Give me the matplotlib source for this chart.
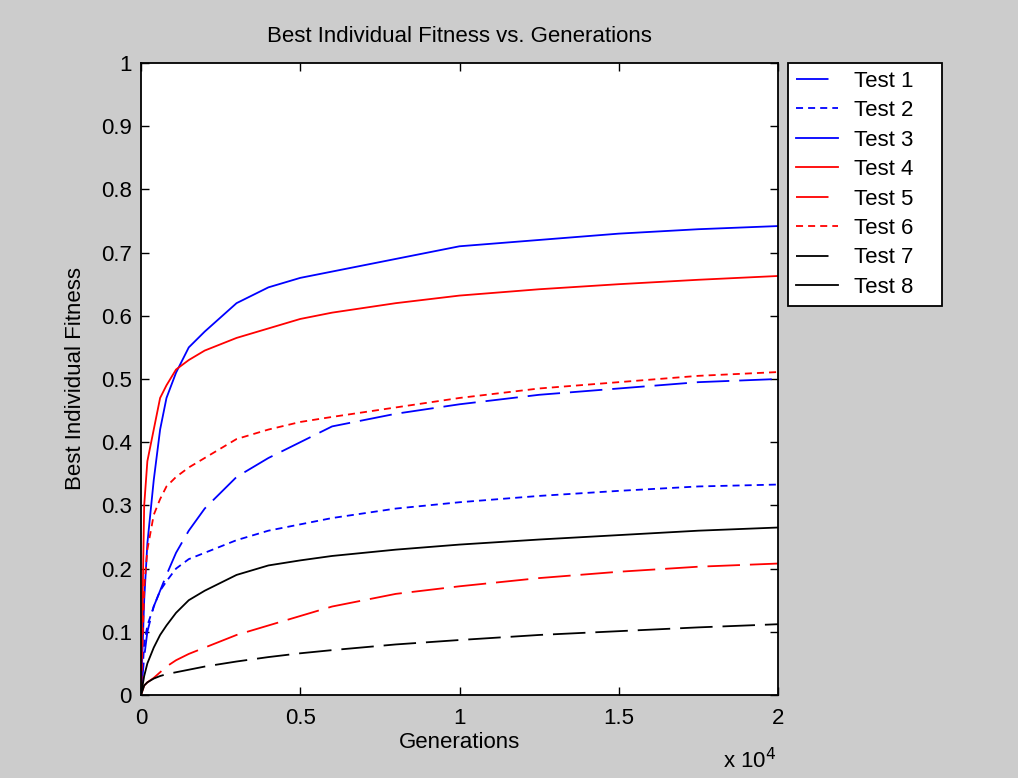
import matplotlib
matplotlib.use("Agg")
import matplotlib.pyplot as plt

plt.rcParams['font.family'] = ['Liberation Sans', 'DejaVu Sans']

gens = [0, 100, 200, 400, 600, 800, 1100, 1500, 2000, 3000, 4000, 5000, 6000, 8000, 10000, 12500, 15000, 17500, 20000]

test1 = [0.0, 0.06, 0.10, 0.14, 0.165, 0.19, 0.225, 0.26, 0.295, 0.345, 0.375, 0.40, 0.425, 0.445, 0.46, 0.475, 0.485, 0.495, 0.50]
test2 = [0.0, 0.08, 0.11, 0.14, 0.165, 0.18, 0.20, 0.215, 0.225, 0.245, 0.26, 0.27, 0.28, 0.295, 0.305, 0.315, 0.323, 0.33, 0.333]
test3 = [0.0, 0.15, 0.24, 0.34, 0.42, 0.47, 0.51, 0.55, 0.575, 0.62, 0.645, 0.66, 0.67, 0.69, 0.71, 0.72, 0.73, 0.737, 0.742]
test4 = [0.0, 0.30, 0.37, 0.42, 0.47, 0.49, 0.515, 0.53, 0.545, 0.565, 0.58, 0.595, 0.605, 0.62, 0.632, 0.642, 0.65, 0.657, 0.663]
test5 = [0.0, 0.015, 0.02, 0.027, 0.036, 0.045, 0.055, 0.065, 0.075, 0.095, 0.11, 0.125, 0.14, 0.16, 0.172, 0.185, 0.195, 0.203, 0.208]
test6 = [0.0, 0.17, 0.23, 0.285, 0.31, 0.33, 0.345, 0.36, 0.375, 0.405, 0.42, 0.432, 0.44, 0.455, 0.47, 0.485, 0.495, 0.505, 0.511]
test7 = [0.0, 0.015, 0.02, 0.026, 0.03, 0.033, 0.036, 0.04, 0.045, 0.053, 0.06, 0.066, 0.071, 0.08, 0.087, 0.095, 0.101, 0.107, 0.112]
test8 = [0.0, 0.03, 0.05, 0.075, 0.095, 0.11, 0.13, 0.15, 0.165, 0.19, 0.205, 0.213, 0.22, 0.23, 0.238, 0.246, 0.253, 0.26, 0.265]

DASH = (0, (18, 5.5))
DOT = (0, (3.9, 2.8))
series = [
    ("Test 1", test1, "#0000ff", DASH),
    ("Test 2", test2, "#0000ff", DOT),
    ("Test 3", test3, "#0000ff", "-"),
    ("Test 4", test4, "#ff0000", "-"),
    ("Test 5", test5, "#ff0000", DASH),
    ("Test 6", test6, "#ff0000", DOT),
    ("Test 7", test7, "#000000", DASH),
    ("Test 8", test8, "#000000", "-"),
]

xticks = [0, 5000, 10000, 15000, 20000]
xticklabels = ["0", "0.5", "1", "1.5", "2"]
yticks = [0, 0.1, 0.2, 0.3, 0.4, 0.5, 0.6, 0.7, 0.8, 0.9, 1.0]
yticklabels = ["0", "0.1", "0.2", "0.3", "0.4", "0.5", "0.6", "0.7", "0.8", "0.9", "1"]

FS = 16
W, H = 1018, 778
L, R, T, B = 141, 778, 63, 695
fig = plt.figure(figsize=(W / 100, H / 100), dpi=100, facecolor="#cccccc")
ax = fig.add_axes([L / W, 1 - B / H, (R - L) / W, (B - T) / H])
ax.set_facecolor("white")

for name, vals, col, ls in series:
    ax.plot(gens, vals, color=col, linestyle=ls, linewidth=1.3, label=name)

ax.set_xlim(0, 20000)
ax.set_ylim(0, 1)
ax.set_xticks(xticks)
ax.set_xticklabels(xticklabels)
ax.set_yticks(yticks)
ax.set_yticklabels(yticklabels)
ax.tick_params(direction="in", top=True, right=True, labelsize=FS, length=6, width=1)
ax.tick_params(axis="y", pad=6.5)
ax.tick_params(axis="x", pad=9)
for s in ax.spines.values():
    s.set_linewidth(1.3)

ax.set_title("Best Individual Fitness vs. Generations", fontsize=FS, pad=15)
ax.set_xlabel("Generations", fontsize=FS)
ax.xaxis.set_label_coords(0.5, (B - 732) / (B - T))
ax.set_ylabel("Best Individual Fitness", fontsize=FS)
ax.yaxis.set_label_coords((86 - L) / (R - L), 0.5)

fig.text(723 / W, 1 - 768 / H, r"x 10$^4$", fontsize=FS, ha="left", va="baseline")

leg = fig.legend(loc="upper left",
                 bbox_to_anchor=(788 / W, 1 - 308 / H, (942 - 788) / W, (308 - 63) / H),
                 mode="expand", borderaxespad=0, fontsize=FS,
                 frameon=True, fancybox=False, borderpad=0.35, labelspacing=0.38,
                 handlelength=1.9, handletextpad=0.7)
leg.get_frame().set_edgecolor("black")
leg.get_frame().set_linewidth(1.3)
leg.get_frame().set_facecolor("white")
leg.get_frame().set_alpha(1)

fig.savefig("out.png", dpi=100, facecolor=fig.get_facecolor())
